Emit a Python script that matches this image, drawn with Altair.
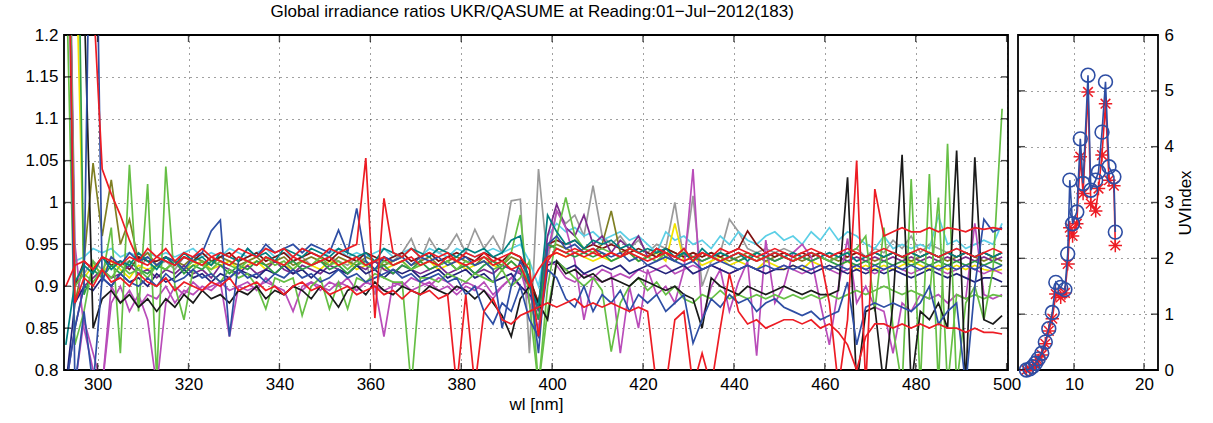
import altair as alt
import pandas as pd

# wavelength grid [nm]
WL = list(range(293, 500, 2))

TEAL = [0.83, 0.905, 0.925, 0.915, 0.935, 0.92, 0.93, 0.925, 0.94, 0.93,
        0.92, 0.935, 0.925, 0.94, 0.93, 0.935, 0.925, 0.94, 0.935, 0.93,
        0.945, 0.935, 0.94, 0.93, 0.945, 0.94, 0.935, 0.945, 0.94, 0.935,
        0.945, 0.94, 0.935, 0.94, 0.93, 0.945, 0.94, 0.935, 0.945, 0.94,
        0.935, 0.945, 0.94, 0.935, 0.945, 0.94, 0.945, 0.935, 0.94, 0.955,
        0.96, 0.9, 0.875, 0.985, 0.965, 0.95, 0.955, 0.945, 0.955, 0.95,
        0.955, 0.945, 0.95, 0.94, 0.945, 0.94, 0.945, 0.935, 0.94, 0.93,
        0.945, 0.935, 0.94, 0.935, 0.94, 0.93, 0.94, 0.935, 0.94, 0.935,
        0.94, 0.935, 0.94, 0.935, 0.94, 0.935, 0.94, 0.93, 0.935, 0.94,
        0.935, 0.94, 0.935, 0.94, 0.935, 0.94, 0.935, 0.94, 0.935, 0.94, 0.935, 0.94, 0.935, 0.94]

RED1 = [1.6, 1.6, 1.6, 1.25, 1.04, 1.01, 0.985, 0.955, 0.93, 0.945,
        0.935, 0.945, 0.93, 0.94, 0.935, 0.945, 0.935, 0.94, 0.935, 0.945,
        0.94, 0.935, 0.945, 0.94, 0.945, 0.935, 0.945, 0.94, 0.935, 0.945,
        0.94, 0.945, 0.95, 1.053, 0.862, 1.005, 0.94, 0.935, 0.945, 0.935,
        0.94, 0.935, 0.94, 0.93, 0.94, 0.935, 0.94, 0.93, 0.935, 0.94,
        0.935, 0.92, 0.84, 0.93, 0.945, 0.94, 0.945, 0.94, 0.945, 0.935,
        0.94, 0.935, 0.945, 0.94, 0.935, 0.945, 0.94, 0.935, 0.945, 0.93,
        0.94, 0.935, 0.945, 0.94, 0.945, 0.94, 0.935, 0.94, 0.945, 0.94,
        0.935, 0.94, 0.945, 0.94, 0.935, 0.94, 0.945, 0.94, 0.935, 0.94,
        0.945, 0.94, 0.935, 0.94, 0.945, 0.94, 0.935, 0.94, 0.945, 0.94, 0.935, 0.94, 0.945, 0.94]

RED2 = [1.5, 0.88, 0.91, 0.9, 0.92, 0.905, 0.91, 0.9, 0.915, 0.905,
        0.9, 0.91, 0.895, 0.905, 0.9, 0.895, 0.905, 0.9, 0.91, 0.895,
        0.9, 0.905, 0.895, 0.9, 0.89, 0.9, 0.905, 0.895, 0.9, 0.89,
        0.895, 0.9, 0.89, 0.895, 0.9, 0.89, 0.895, 0.885, 0.895, 0.89,
        0.895, 0.885, 0.89, 0.78, 0.89, 0.78, 0.87, 0.885, 0.86, 0.855,
        0.865, 0.87, 0.875, 0.88, 0.875, 0.88, 0.885, 0.875, 0.88, 0.875,
        0.88, 0.875, 0.87, 0.875, 0.87, 0.78, 0.78, 0.86, 0.87, 0.78,
        0.82, 0.78, 0.85, 0.915, 0.87, 0.855, 0.86, 0.85, 0.855, 0.86,
        0.86, 0.855, 0.86, 0.85, 0.855, 0.845, 0.83, 0.80, 0.84, 0.855,
        0.855, 0.85, 0.855, 0.85, 0.855, 0.85, 0.855, 0.85, 0.85, 0.845, 0.85, 0.845, 0.845, 0.843]

RED3 = [0.9, 0.925, 0.93, 0.92, 0.935, 0.93, 0.925, 0.935, 0.93, 0.925,
        0.935, 0.93, 0.925, 0.935, 0.93, 0.925, 0.935, 0.93, 0.925, 0.935,
        0.93, 0.925, 0.935, 0.93, 0.925, 0.935, 0.93, 0.925, 0.93, 0.935,
        0.925, 0.93, 0.935, 0.925, 0.93, 0.935, 0.925, 0.93, 0.935, 0.925,
        0.93, 0.925, 0.935, 0.93, 0.925, 0.93, 0.935, 0.925, 0.93, 0.92,
        0.925, 0.9, 0.92, 0.935, 0.94, 0.935, 0.94, 0.935, 0.94, 0.935,
        0.94, 0.935, 0.94, 0.935, 0.93, 0.935, 0.94, 0.935, 0.93, 0.935,
        0.94, 0.935, 0.93, 0.935, 0.94, 0.935, 0.93, 0.935, 0.94, 0.935,
        0.93, 0.935, 0.94, 0.935, 0.88, 0.78, 0.86, 1.05, 0.78, 1.016,
        0.96, 0.965, 0.97, 0.965, 0.965, 0.97, 0.965, 0.97, 0.968, 0.965, 0.97, 0.968, 0.97, 0.968]

BLACK = [1.6, 1.6, 1.25, 0.85, 0.885, 0.895, 0.88, 0.89, 0.875, 0.885,
         0.87, 0.885, 0.875, 0.89, 0.88, 0.895, 0.885, 0.89, 0.88, 0.895,
         0.89, 0.9, 0.885, 0.895, 0.89, 0.9, 0.895, 0.885, 0.9, 0.89,
         0.875, 0.895, 0.9, 0.89, 0.905, 0.895, 0.89, 0.9, 0.895, 0.89,
         0.9, 0.895, 0.89, 0.9, 0.895, 0.885, 0.895, 0.88, 0.865, 0.84,
         0.885, 0.9, 0.88, 0.86, 0.93, 0.915, 0.92, 0.91, 0.915, 0.905,
         0.91, 0.905, 0.9, 0.91, 0.905, 0.9, 0.895, 0.9, 0.89, 0.885,
         0.85, 0.91, 0.9, 0.895, 0.89, 0.9, 0.895, 0.89, 0.895, 0.9,
         0.895, 0.89, 0.895, 0.89, 0.89, 0.895, 1.03, 0.78, 0.87, 0.875,
         0.78, 0.88, 1.057, 0.78, 0.87, 0.86, 0.88, 0.85, 1.062, 0.78, 1.054, 0.86, 0.855, 0.865]

GREEN1 = [1.6, 1.6, 0.89, 0.92, 0.91, 0.925, 0.915, 0.93, 0.92, 0.915,
          0.925, 0.92, 0.93, 0.915, 0.925, 0.92, 0.93, 0.925, 0.915, 0.925,
          0.92, 0.93, 0.925, 0.915, 0.925, 0.93, 0.92, 0.925, 0.93, 0.92,
          0.925, 0.915, 0.925, 0.93, 0.92, 0.925, 0.915, 0.925, 0.92, 0.93,
          0.92, 0.925, 0.93, 0.92, 0.925, 0.915, 0.925, 0.93, 0.92, 0.93,
          0.92, 0.9, 0.86, 0.95, 0.945, 0.94, 0.935, 0.94, 0.935, 0.94,
          0.93, 0.935, 0.94, 0.93, 0.935, 0.945, 0.935, 0.93, 0.94, 0.935,
          0.93, 0.935, 0.94, 0.935, 0.93, 0.935, 0.94, 0.935, 0.93, 0.935,
          0.93, 0.935, 0.93, 0.935, 0.93, 0.925, 0.93, 0.925, 0.93, 0.925,
          0.93, 0.925, 0.93, 0.925, 0.93, 0.925, 0.93, 0.925, 0.93, 0.925, 0.93, 0.925, 0.93, 0.925]

GREEN2 = [1.3, 0.83, 0.87, 0.93, 0.91, 0.97, 0.82, 1.045, 0.87, 1.022,
          0.79, 1.043, 0.9, 0.86, 0.92, 0.93, 0.915, 0.905, 0.92, 0.91,
          0.915, 0.9, 0.873, 0.91, 0.905, 0.91, 0.865, 0.9, 0.91, 0.873,
          0.905, 0.873, 0.91, 0.905, 0.915, 0.91, 0.905, 0.905, 0.78, 0.91,
          0.91, 0.905, 0.915, 0.91, 0.905, 0.915, 0.91, 0.905, 0.92, 0.9,
          0.91, 0.93, 0.78, 0.87, 0.93, 0.92, 0.91, 0.9, 0.91, 0.895,
          0.822, 0.88, 0.9, 0.91, 0.895, 0.905, 0.89, 0.9, 0.885, 0.88,
          0.89, 0.885, 0.895, 0.885, 0.89, 0.885, 0.89, 0.885, 0.89, 0.885,
          0.89, 0.885, 0.89, 0.885, 0.89, 0.885, 0.89, 0.895, 0.89, 0.895,
          0.9, 0.895, 0.89, 0.895, 0.89, 0.885, 1.006, 0.78, 0.89, 0.885, 0.89, 0.885, 0.89, 0.888]

GREEN3 = [1.6, 0.9, 0.915, 0.905, 0.92, 0.91, 0.925, 0.915, 0.92, 0.91,
          0.925, 0.92, 0.93, 0.92, 0.93, 0.925, 0.92, 0.93, 0.925, 0.92,
          0.93, 0.925, 0.935, 0.925, 0.93, 0.92, 0.93, 0.925, 0.935, 0.925,
          0.93, 0.92, 0.93, 0.925, 0.92, 0.93, 0.925, 0.93, 0.92, 0.925,
          0.93, 0.925, 0.93, 0.92, 0.93, 0.925, 0.93, 0.92, 0.925, 0.94,
          0.985, 0.88, 0.78, 0.9, 0.96, 1.006, 0.96, 0.945, 0.94, 0.945,
          0.94, 0.935, 0.945, 0.94, 0.935, 0.93, 0.94, 0.935, 0.945, 0.93,
          0.94, 0.935, 0.93, 0.935, 0.94, 0.935, 0.93, 0.935, 0.94, 0.935,
          0.93, 0.935, 0.94, 0.935, 0.93, 0.935, 0.94, 0.945, 0.96, 0.87,
          0.97, 0.85, 0.78, 1.028, 0.78, 1.034, 0.78, 1.07, 0.78, 0.88, 0.9, 0.86, 0.92, 1.112]

BLUE1 = [0.78, 0.85, 0.9, 1.6, 0.905, 0.935, 0.925, 0.94, 0.93, 0.935,
         0.925, 0.935, 0.93, 0.92, 0.935, 0.94, 0.966, 0.979, 0.84, 0.93,
         0.945, 0.935, 0.95, 0.94, 0.945, 0.95, 0.94, 0.95, 0.945, 0.94,
         0.967, 0.94, 0.993, 0.93, 0.92, 0.935, 0.93, 0.935, 0.925, 0.935,
         0.93, 0.935, 0.925, 0.93, 0.935, 0.925, 0.93, 0.92, 0.85, 0.9,
         0.93, 0.91, 0.82, 0.95, 0.96, 0.945, 0.95, 0.94, 0.945, 0.94,
         0.935, 0.94, 0.93, 0.935, 0.925, 0.93, 0.935, 0.93, 0.925, 0.93,
         0.92, 0.925, 0.93, 0.925, 0.92, 0.925, 0.92, 0.925, 0.92, 0.925,
         0.92, 0.925, 0.92, 0.925, 0.92, 0.925, 0.92, 0.925, 0.92, 0.925,
         0.92, 0.925, 0.92, 0.925, 0.92, 0.925, 0.92, 0.925, 0.92, 0.925, 0.92, 0.925, 0.92, 0.925]

BLUE2 = [1.6, 0.78, 0.87, 0.78, 0.91, 0.9, 0.915, 0.905, 0.9, 0.91,
         0.9, 0.915, 0.905, 0.91, 0.92, 0.91, 0.915, 0.905, 0.91, 0.92,
         0.91, 0.915, 0.905, 0.915, 0.91, 0.92, 0.91, 0.915, 0.905, 0.91,
         0.92, 0.91, 0.915, 0.905, 0.91, 0.915, 0.92, 0.91, 0.915, 0.905,
         0.91, 0.915, 0.905, 0.91, 0.89, 0.9, 0.87, 0.855, 0.88, 0.87,
         0.9, 0.86, 0.84, 0.92, 0.91, 0.885, 0.875, 0.9, 0.87, 0.89,
         0.88, 0.895, 0.87, 0.89, 0.88, 0.89, 0.87, 0.88, 0.89, 0.832,
         0.86, 0.885, 0.875, 0.89, 0.88, 0.885, 0.87, 0.88, 0.885, 0.875,
         0.87, 0.865, 0.87, 0.86, 0.865, 0.87, 0.905, 0.83, 0.875, 0.88,
         0.875, 0.88, 0.875, 0.87, 0.88, 0.9, 0.855, 0.87, 0.88, 0.78, 0.9, 0.98, 0.965, 0.97]

NAVY = [0.78, 0.88, 0.9, 0.895, 0.91, 0.9, 0.915, 0.905, 0.91, 0.9,
        0.915, 0.905, 0.91, 0.92, 0.91, 0.915, 0.905, 0.915, 0.91, 0.92,
        0.915, 0.91, 0.92, 0.915, 0.925, 0.915, 0.92, 0.91, 0.92, 0.915,
        0.92, 0.915, 0.925, 0.915, 0.92, 0.91, 0.92, 0.915, 0.92, 0.91,
        0.915, 0.92, 0.91, 0.915, 0.92, 0.91, 0.915, 0.905, 0.91, 0.915,
        0.9, 0.89, 0.88, 0.925, 0.93, 0.92, 0.925, 0.915, 0.92, 0.925,
        0.92, 0.925, 0.915, 0.92, 0.925, 0.92, 0.915, 0.92, 0.925, 0.915,
        0.92, 0.925, 0.92, 0.915, 0.92, 0.925, 0.92, 0.915, 0.92, 0.92,
        0.925, 0.92, 0.915, 0.92, 0.925, 0.92, 0.915, 0.92, 0.915, 0.92,
        0.915, 0.92, 0.915, 0.91, 0.915, 0.92, 0.915, 0.91, 0.915, 0.91, 0.905, 0.91, 0.91, 0.905]

MAGENTA1 = [0.8, 0.78, 0.86, 0.82, 0.78, 0.9, 0.88, 0.895, 0.875, 0.89,
            0.885, 0.9, 0.88, 0.895, 0.89, 0.9, 0.895, 0.905, 0.84, 0.9,
            0.905, 0.895, 0.91, 0.9, 0.895, 0.87, 0.9, 0.905, 0.895, 0.905,
            0.9, 0.91, 0.895, 0.905, 0.9, 0.84, 0.905, 0.9, 0.91, 0.905,
            0.9, 0.91, 0.905, 0.895, 0.905, 0.9, 0.895, 0.885, 0.9, 0.91,
            0.9, 0.89, 0.86, 0.93, 0.925, 0.91, 0.905, 0.915, 0.91, 0.905,
            0.91, 0.915, 0.91, 0.92, 0.915, 0.92, 0.925, 0.915, 0.92, 0.925,
            0.92, 0.925, 0.92, 0.915, 0.92, 0.925, 0.92, 0.915, 0.92, 0.925,
            0.92, 0.915, 0.92, 0.925, 0.92, 0.915, 0.92, 0.925, 0.92, 0.915,
            0.92, 0.925, 0.92, 0.915, 0.92, 0.925, 0.92, 0.915, 0.92, 0.925, 0.92, 0.915, 0.92, 0.915]

MAGENTA2 = [1.6, 0.95, 0.85, 0.8, 0.78, 0.88, 0.9, 0.87, 0.89, 0.86,
            0.78, 0.88, 0.9, 0.89, 0.905, 0.895, 0.9, 0.905, 0.895, 0.9,
            0.895, 0.9, 0.905, 0.9, 0.89, 0.9, 0.895, 0.905, 0.9, 0.895,
            0.905, 0.9, 0.895, 0.905, 0.9, 0.895, 0.9, 0.905, 0.895, 0.9,
            0.905, 0.895, 0.9, 0.89, 0.9, 0.895, 0.905, 0.89, 0.9, 0.91,
            0.92, 0.88, 0.85, 0.94, 0.99, 0.97, 0.93, 0.86, 0.91, 0.92,
            0.915, 0.82, 0.9, 0.85, 0.92, 0.89, 0.9, 0.88, 0.92, 1.04,
            0.86, 0.9, 0.92, 0.87, 0.905, 0.93, 0.817, 0.955, 0.88, 0.9,
            0.94, 0.95, 0.935, 0.88, 0.83, 0.9, 0.957, 0.88, 0.9, 0.875,
            0.87, 0.82, 0.88, 0.87, 0.89, 0.885, 0.89, 0.88, 0.89, 0.885, 0.975, 0.89, 0.885, 0.89]

GRAY = [1.6, 0.9, 0.915, 0.93, 0.92, 0.935, 0.925, 0.93, 0.92, 0.935,
        0.925, 0.93, 0.92, 0.935, 0.93, 0.925, 0.935, 0.93, 0.925, 0.935,
        0.93, 0.925, 0.935, 0.93, 0.925, 0.93, 0.935, 0.925, 0.93, 0.935,
        0.93, 0.925, 0.935, 0.93, 0.89, 0.935, 0.93, 0.94, 0.957, 0.93,
        0.957, 0.94, 0.945, 0.962, 0.94, 0.968, 0.945, 0.96, 0.94, 1.002,
        1.004, 0.82, 1.04, 0.93, 0.99, 0.975, 0.985, 0.96, 1.02, 0.96,
        0.95, 0.96, 0.945, 0.955, 0.94, 0.95, 0.945, 1.0, 0.93, 1.008,
        0.9, 0.93, 0.94, 0.98, 0.965, 0.945, 0.94, 0.945, 0.94, 0.945,
        0.94, 0.935, 0.94, 0.935, 0.94, 0.935, 0.94, 0.945, 0.935, 0.945,
        0.94, 0.955, 0.945, 0.96, 0.94, 0.95, 0.945, 0.94, 0.945, 0.94, 0.935, 0.94, 0.935, 0.94]

CYAN = [1.6, 0.93, 0.935, 0.945, 0.94, 0.945, 0.935, 0.94, 0.935, 0.94,
        0.935, 0.94, 0.935, 0.94, 0.945, 0.935, 0.94, 0.935, 0.945, 0.94,
        0.935, 0.94, 0.945, 0.935, 0.94, 0.935, 0.945, 0.94, 0.935, 0.94,
        0.945, 0.935, 0.94, 0.935, 0.94, 0.945, 0.935, 0.94, 0.945, 0.935,
        0.945, 0.94, 0.935, 0.945, 0.94, 0.935, 0.94, 0.945, 0.94, 0.945,
        0.95, 0.93, 0.9, 0.96, 0.975, 0.965, 0.97, 0.96, 0.965, 0.955,
        0.96, 0.965, 0.955, 0.96, 0.95, 0.94, 0.965, 0.955, 0.96, 0.95,
        0.955, 0.945, 0.96, 0.95, 0.965, 0.955, 0.95, 0.96, 0.965, 0.955,
        0.96, 0.95, 0.965, 0.955, 0.97, 0.955, 0.965, 0.96, 0.95, 0.945,
        0.96, 0.945, 0.95, 0.945, 0.95, 0.945, 0.984, 0.95, 0.955, 0.945, 0.95, 0.955, 0.95, 0.975]

YELLOW = [1.6, 1.35, 0.91, 0.925, 0.915, 0.93, 0.92, 0.91, 0.925, 0.92,
          0.925, 0.92, 0.93, 0.92, 0.925, 0.93, 0.92, 0.925, 0.93, 0.92,
          0.925, 0.93, 0.92, 0.93, 0.925, 0.92, 0.93, 0.925, 0.92, 0.93,
          0.925, 0.93, 0.92, 0.925, 0.93, 0.92, 0.925, 0.93, 0.92, 0.925,
          0.93, 0.92, 0.925, 0.93, 0.92, 0.925, 0.93, 0.925, 0.92, 0.93,
          0.92, 0.9, 0.88, 0.935, 0.94, 0.935, 0.94, 0.935, 0.93, 0.935,
          0.93, 0.935, 0.94, 0.93, 0.935, 0.94, 0.93, 0.975, 0.93, 0.935,
          0.925, 0.93, 0.935, 0.925, 0.93, 0.925, 0.92, 0.93, 0.925, 0.92,
          0.925, 0.92, 0.93, 0.925, 0.92, 0.925, 0.93, 0.92, 0.925, 0.92,
          0.925, 0.92, 0.925, 0.93, 0.925, 0.92, 0.925, 0.92, 0.925, 0.92, 0.925, 0.92, 0.918, 0.92]

MAROON = [1.6, 0.9, 0.93, 0.92, 0.935, 0.925, 0.93, 0.92, 0.935, 0.93,
          0.93, 0.935, 0.925, 0.935, 0.93, 0.94, 0.93, 0.935, 0.94, 0.93,
          0.935, 0.94, 0.93, 0.935, 0.94, 0.93, 0.935, 0.94, 0.935, 0.93,
          0.94, 0.935, 0.93, 0.94, 0.935, 0.93, 0.935, 0.94, 0.93, 0.935,
          0.94, 0.93, 0.935, 0.94, 0.935, 0.93, 0.94, 0.935, 0.93, 0.94,
          0.935, 0.91, 0.88, 0.95, 0.955, 0.95, 0.955, 0.945, 0.95, 0.945,
          0.95, 0.945, 0.94, 0.945, 0.94, 0.935, 0.945, 0.94, 0.935, 0.94,
          0.935, 0.94, 0.935, 0.94, 0.945, 0.966, 0.95, 0.94, 0.935, 0.94,
          0.935, 0.94, 0.935, 0.94, 0.935, 0.94, 0.935, 0.94, 0.935, 0.94,
          0.935, 0.94, 0.935, 0.94, 0.935, 0.94, 0.935, 0.94, 0.935, 0.94, 0.935, 0.94, 0.935, 0.94]

PURPLE = [0.78, 0.85, 0.9, 0.91, 0.92, 0.91, 0.915, 0.925, 0.915, 0.92,
          0.91, 0.92, 0.915, 0.925, 0.915, 0.92, 0.91, 0.925, 0.92, 0.915,
          0.925, 0.915, 0.92, 0.93, 0.92, 0.915, 0.925, 0.92, 0.915, 0.925,
          0.92, 0.915, 0.925, 0.92, 0.93, 0.92, 0.915, 0.925, 0.92, 0.915,
          0.92, 0.925, 0.915, 0.92, 0.925, 0.915, 0.92, 0.915, 0.925, 0.92,
          0.915, 0.9, 0.87, 0.96, 0.998, 0.97, 0.96, 0.985, 0.95, 0.96,
          0.94, 0.955, 0.945, 0.96, 0.935, 0.945, 0.94, 0.93, 0.94, 0.935,
          0.93, 0.935, 0.93, 0.935, 0.93, 0.935, 0.93, 0.935, 0.93, 0.935,
          0.93, 0.935, 0.93, 0.935, 0.93, 0.935, 0.93, 0.935, 0.93, 0.935,
          0.93, 0.935, 0.93, 0.935, 0.93, 0.935, 0.93, 0.935, 0.93, 0.935, 0.93, 0.935, 0.93, 0.935]

OLIVE = [1.6, 0.88, 0.93, 1.047, 0.96, 1.027, 0.95, 0.98, 0.93, 0.94,
         0.925, 0.935, 0.93, 0.925, 0.935, 0.93, 0.925, 0.935, 0.93, 0.925,
         0.93, 0.935, 0.925, 0.93, 0.935, 0.925, 0.93, 0.935, 0.93, 0.925,
         0.935, 0.93, 0.925, 0.935, 0.93, 0.925, 0.93, 0.935, 0.925, 0.93,
         0.935, 0.925, 0.93, 0.935, 0.93, 0.925, 0.935, 0.93, 0.925, 0.935,
         0.93, 0.91, 0.88, 0.945, 0.95, 0.945, 0.94, 0.945, 0.94, 0.95,
         0.99, 0.94, 0.945, 0.94, 0.935, 0.94, 0.945, 0.94, 0.935, 0.94,
         0.935, 0.94, 0.935, 0.93, 0.935, 0.94, 0.935, 0.93, 0.935, 0.94,
         0.935, 0.93, 0.935, 0.94, 0.935, 0.93, 0.935, 0.94, 0.935, 0.93,
         0.935, 0.94, 0.935, 0.93, 0.935, 0.94, 0.935, 0.93, 0.935, 0.94, 0.935, 0.93, 0.935, 0.93]

# UV index time series (right panel)
UV_T = [3.2, 3.7, 4.1, 4.5, 4.9, 5.4, 5.9, 6.4, 6.9, 7.4, 8.1, 8.7, 9.1, 9.4,
        9.8, 10.4, 10.9, 11.3, 12.0, 12.4, 13.1, 13.5, 14.0, 14.5, 15.0, 15.7, 15.9]
UV_BLUE = [0.0, 0.02, 0.06, 0.12, 0.2, 0.3, 0.5, 0.74, 1.03, 1.57, 1.48, 1.44, 2.08, 3.4,
           2.62, 2.83, 4.14, 3.34, 5.28, 3.22, 3.4, 3.55, 4.26, 5.16, 3.64, 3.46, 2.47]
UV_RED = [0.0, 0.02, 0.05, 0.1, 0.17, 0.27, 0.47, 0.7, 0.92, 1.36, 1.3, 1.38, 1.9, 2.55,
          2.4, 2.62, 3.82, 3.16, 4.98, 2.98, 2.85, 3.25, 3.85, 4.77, 3.4, 3.3, 2.23]

X_TICKS = [300, 320, 340, 360, 380, 400, 420, 440, 460, 480, 500]
Y_TICKS = [0.8, 0.85, 0.9, 0.95, 1.0, 1.05, 1.1, 1.15, 1.2]
UVX_TICKS = [10, 20]
UVY_TICKS = [0, 1, 2, 3, 4, 5, 6]

# drawing order (first drawn is at the bottom) and styles
SERIES = [
    ("gray", GRAY, "#9a9a9a"), ("cyan", CYAN, "#5ccfe6"), ("yellow", YELLOW, "#f2e200"),
    ("olive", OLIVE, "#7f7f22"), ("maroon", MAROON, "#7f1111"), ("purple", PURPLE, "#7a2a8c"),
    ("magenta1", MAGENTA1, "#b94cb9"), ("magenta2", MAGENTA2, "#b94cb9"), ("navy", NAVY, "#22227a"),
    ("green1", GREEN1, "#2e9c48"), ("green2", GREEN2, "#66bf45"), ("green3", GREEN3, "#66bf45"),
    ("black", BLACK, "#1a1a1a"), ("blue2", BLUE2, "#2e4ea4"), ("blue1", BLUE1, "#2e4ea4"),
    ("teal", TEAL, "#008080"), ("red2", RED2, "#ed1c24"), ("red3", RED3, "#ed1c24"),
    ("red1", RED1, "#ed1c24"),
]

rows = []
for name, vals, _c in SERIES:
    assert len(vals) == len(WL), (name, len(vals))
    for w, v in zip(WL, vals):
        rows.append({"wl": w, "v": v, "s": name})
df = pd.DataFrame(rows)

W, H = 944, 335
FONT = "Liberation Sans"

xs = alt.Scale(domain=[292.6, 500.3], nice=False, zero=False)
ys = alt.Scale(domain=[0.8, 1.2], nice=False, zero=False)
X = alt.X("wl:Q", scale=xs, axis=alt.Axis(values=X_TICKS, title="wl [nm]", format="d"))
Y = alt.Y("v:Q", scale=ys, axis=alt.Axis(values=Y_TICKS, title=None, format="~g"))

layers = []
for name, _v, color in SERIES:
    layers.append(
        alt.Chart(df).transform_filter(alt.datum.s == name)
        .mark_line(color=color, strokeWidth=1.7, clip=True)
        .encode(x=X, y=Y)
    )

xt = pd.DataFrame({"wl": X_TICKS})
yt = pd.DataFrame({"v": Y_TICKS})
tick_kw = dict(color="black", size=14, thickness=1.4, clip=True)
layers += [
    alt.Chart(xt).mark_tick(orient="vertical", **tick_kw).encode(x=X, y=alt.value(0)),
    alt.Chart(xt).mark_tick(orient="vertical", **tick_kw).encode(x=X, y=alt.value(H)),
    alt.Chart(yt).mark_tick(orient="horizontal", **tick_kw).encode(y=Y, x=alt.value(0)),
    alt.Chart(yt).mark_tick(orient="horizontal", **tick_kw).encode(y=Y, x=alt.value(W)),
]
main = alt.layer(*layers).properties(width=W, height=H)

# right panel
RW = 140
blue_df = pd.DataFrame({"t": UV_T, "uv": UV_BLUE})
red_df = pd.DataFrame({"t": UV_T, "uv": UV_RED})
RX = alt.X("t:Q", scale=alt.Scale(domain=[2, 22], nice=False, zero=False),
           axis=alt.Axis(values=UVX_TICKS, title=None))
RY = alt.Y("uv:Q", scale=alt.Scale(domain=[0, 6], nice=False, zero=False),
           axis=alt.Axis(values=UVY_TICKS, orient="right", title="UVIndex", titleAngle=270,
                         titleBaseline="top", titlePadding=4))
ASTERISK = "M-1,0L1,0M0,-1L0,1M-0.72,-0.72L0.72,0.72M-0.72,0.72L0.72,-0.72"
rxt = pd.DataFrame({"t": UVX_TICKS})
ryt = pd.DataFrame({"uv": UVY_TICKS})
right = alt.layer(
    alt.Chart(red_df).mark_line(color="#ed1c24", strokeWidth=1.6).encode(x=RX, y=RY),
    alt.Chart(red_df).mark_point(shape=ASTERISK, size=180, color="#ed1c24", filled=False,
                                 strokeWidth=1.5, opacity=1).encode(x=RX, y=RY),
    alt.Chart(blue_df).mark_line(color="#2e4ea4", strokeWidth=1.6).encode(x=RX, y=RY),
    alt.Chart(blue_df).mark_point(shape="circle", size=190, color="#2e4ea4", filled=False,
                                  strokeWidth=1.6, opacity=1).encode(x=RX, y=RY),
    alt.Chart(rxt).mark_tick(orient="vertical", **tick_kw).encode(x=RX, y=alt.value(0)),
    alt.Chart(rxt).mark_tick(orient="vertical", **tick_kw).encode(x=RX, y=alt.value(H)),
    alt.Chart(ryt).mark_tick(orient="horizontal", **tick_kw).encode(y=RY, x=alt.value(0)),
    alt.Chart(ryt).mark_tick(orient="horizontal", **tick_kw).encode(y=RY, x=alt.value(RW)),
).properties(width=RW, height=H)

chart = alt.hconcat(main, right, spacing=10, bounds="flush").properties(
    title=alt.TitleParams(
        text="Global irradiance ratios UKR/QASUME at Reading:01\u2212Jul\u22122012(183)",
        font=FONT, fontSize=17, fontWeight="normal", color="black",
        anchor="middle", dx=-77, offset=4,
    ),
    padding={"left": 24, "top": 3, "right": 5, "bottom": 5},
    background="white",
).configure_view(
    stroke="black", strokeWidth=1.8
).configure_axis(
    labelFont=FONT, labelFontSize=17, labelColor="black",
    titleFont=FONT, titleFontSize=17, titleFontWeight="normal", titleColor="black",
    ticks=False, domain=False, grid=True,
    gridColor="black", gridDash=[1, 5], gridWidth=1, gridOpacity=0.75,
    labelFlush=False, labelPadding=6,
)

chart.save("out.html", embed_options={"renderer": "svg", "actions": False})
